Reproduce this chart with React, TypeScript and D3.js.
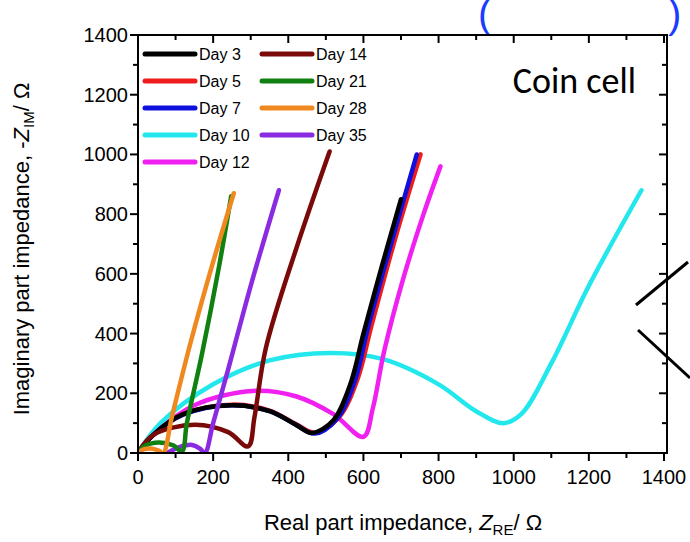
import * as d3 from "d3"

type P = [number, number]

const day3: P[] = [[0, 0], [40, 60], [120, 130], [250, 160], [350, 140], [420, 95], [463, 67], [520, 110], [565, 230], [600, 400], [650, 630], [700, 850]]
const day5: P[] = [[0, 0], [40, 60], [120, 130], [250, 162], [350, 142], [420, 97], [470, 68], [535, 120], [585, 250], [620, 420], [685, 720], [752, 1000]]
const day7: P[] = [[0, 0], [40, 60], [120, 128], [245, 160], [350, 140], [420, 95], [470, 65], [530, 115], [578, 245], [612, 420], [678, 720], [742, 1000]]
const day10: P[] = [[0, 0], [60, 100], [200, 230], [350, 310], [511, 335], [650, 315], [800, 230], [900, 140], [972, 100], [1020, 130], [1100, 300], [1200, 560], [1340, 880]]
const day12: P[] = [[0, 0], [40, 60], [150, 160], [306, 208], [420, 190], [520, 130], [600, 54], [625, 150], [655, 340], [705, 580], [760, 800], [805, 960]]
const day14: P[] = [[0, 0], [40, 60], [150, 95], [240, 70], [293, 22], [310, 120], [340, 350], [420, 680], [510, 1010]]
const day21: P[] = [[0, 0], [20, 25], [55, 35], [95, 25], [117, 5], [130, 100], [170, 330], [215, 620], [248, 860]]
const day28: P[] = [[0, 0], [15, 12], [35, 15], [55, 8], [67, 0], [90, 120], [140, 370], [200, 640], [255, 870]]
const day35: P[] = [[77, 0], [110, 20], [144, 27], [165, 15], [178, 0], [200, 100], [240, 280], [300, 560], [375, 880]]

const seriesNames = ["Day 3", "Day 5", "Day 7", "Day 10", "Day 12", "Day 14", "Day 21", "Day 28", "Day 35"]
const seriesData = [day3, day5, day7, day10, day12, day14, day21, day28, day35]
const seriesColors = ["#000000", "#ee1c1c", "#1010dd", "#22e8ee", "#f020f0", "#7a0a0a", "#108010", "#f08820", "#8a2be2"]
const drawOrder = [3, 4, 1, 2, 0, 5, 8, 6, 7]

const xTicks = [0, 200, 400, 600, 800, 1000, 1200, 1400]
const yTicks = [0, 200, 400, 600, 800, 1000, 1200, 1400]

const L = 138, R = 667, T = 35, B = 453

export default function App() {
  const x = d3.scaleLinear().domain([0, 1400]).range([L, L + 526])
  const y = d3.scaleLinear().domain([0, 1400]).range([B, T])
  const line = d3.line<P>().x((d) => x(d[0])).y((d) => y(d[1])).curve(d3.curveCatmullRom.alpha(0.5))
  const minorX = d3.range(100, 1400, 200)
  const minorY = d3.range(100, 1400, 200)
  const font = "Arial, 'Liberation Sans', sans-serif"

  return (
    <svg width={690} height={542} style={{ position: "absolute", left: 0, top: 0, background: "#fff" }} fontFamily={font}>
      <text x={478} y={28} fontSize={40} fill="#1a3cff">(</text>
      <text x={668} y={28} fontSize={40} fill="#1a3cff">)</text>
      <defs>
        <clipPath id="plot"><rect x={L} y={T} width={R - L} height={B - T} /></clipPath>
      </defs>
      <g clipPath="url(#plot)">
        {drawOrder.map((i) => (
          <path key={i} d={line(seriesData[i]) || ""} fill="none" stroke={seriesColors[i]} strokeWidth={4.5} strokeLinejoin="round" strokeLinecap="round" />
        ))}
      </g>
      <rect x={L} y={T} width={R - L} height={B - T} fill="none" stroke="#000" strokeWidth={2} />
      {xTicks.map((t) => (
        <g key={"x" + t}>
          <line x1={x(t)} x2={x(t)} y1={B} y2={B + 8} stroke="#000" strokeWidth={2} />
          <line x1={x(t)} x2={x(t)} y1={T} y2={T + 8} stroke="#000" strokeWidth={2} />
          <text x={x(t)} y={B + 31} fontSize={20} textAnchor="middle">{t}</text>
        </g>
      ))}
      {minorX.map((t) => (
        <g key={"mx" + t}>
          <line x1={x(t)} x2={x(t)} y1={B} y2={B + 5} stroke="#000" strokeWidth={2} />
          <line x1={x(t)} x2={x(t)} y1={T} y2={T + 5} stroke="#000" strokeWidth={2} />
        </g>
      ))}
      {yTicks.map((t) => (
        <g key={"y" + t}>
          <line x1={L - 8} x2={L} y1={y(t)} y2={y(t)} stroke="#000" strokeWidth={2} />
          <line x1={R - 8} x2={R} y1={y(t)} y2={y(t)} stroke="#000" strokeWidth={2} />
          <text x={L - 10} y={y(t) + 7} fontSize={20} textAnchor="end">{t}</text>
        </g>
      ))}
      {minorY.map((t) => (
        <g key={"my" + t}>
          <line x1={L - 5} x2={L} y1={y(t)} y2={y(t)} stroke="#000" strokeWidth={2} />
          <line x1={R - 5} x2={R} y1={y(t)} y2={y(t)} stroke="#000" strokeWidth={2} />
        </g>
      ))}
      {seriesNames.map((n, i) => {
        const col = i < 5 ? 0 : 1
        const row = i < 5 ? i : i - 5
        const lx = col === 0 ? 145 : 262
        const ly = 54 + row * 27
        return (
          <g key={n}>
            <line x1={lx} x2={lx + 50} y1={ly} y2={ly} stroke={seriesColors[i]} strokeWidth={5} strokeLinecap="round" />
            <text x={lx + 54} y={ly + 6} fontSize={16}>{n}</text>
          </g>
        )
      })}
      <text x={636} y={93} fontSize={36} textAnchor="end" fontFamily="Carlito, Calibri, 'Open Sans', sans-serif">Coin cell</text>
      <text x={403} y={530} fontSize={22} textAnchor="middle">
        Real part impedance, <tspan fontStyle="italic">Z</tspan><tspan fontSize={15} dy={5}>RE</tspan><tspan dy={-5}>/ Ω</tspan>
      </text>
      <text transform={`translate(29,${(T + B) / 2 + 5}) rotate(-90)`} fontSize={22} textAnchor="middle">
        Imaginary part impedance, -<tspan fontStyle="italic">Z</tspan><tspan fontSize={15} dy={5}>IM</tspan><tspan dy={-5}>/ Ω</tspan>
      </text>
      <line x1={688} y1={262} x2={636} y2={305} stroke="#000" strokeWidth={3} />
      <line x1={638} y1={330} x2={690} y2={378} stroke="#000" strokeWidth={3} />
    </svg>
  )
}
